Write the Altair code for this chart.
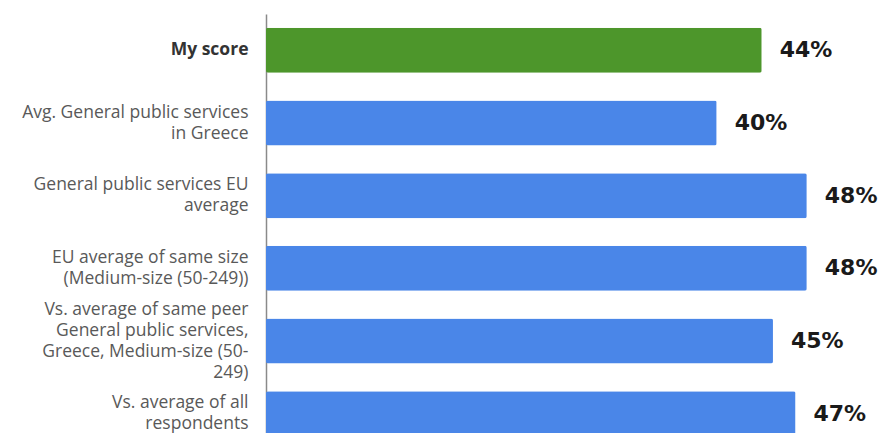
import altair as alt
import pandas as pd

categories = [
    "My score",
    "Avg. General public services\nin Greece",
    "General public services EU\naverage",
    "EU average of same size\n(Medium-size (50-249))",
    "Vs. average of same peer\nGeneral public services,\nGreece, Medium-size (50-\n249)",
    "Vs. average of all\nrespondents",
]
values = [44, 40, 48, 48, 45, 47]
kinds = ["mine", "other", "other", "other", "other", "other"]

df = pd.DataFrame({"category": categories, "value": values, "kind": kinds})
df["label"] = df["value"].astype(str) + "%"

y_scale = alt.Scale(range=[0, 436], paddingInner=0.38, paddingOuter=0.19)

y_enc = alt.Y(
    "category:N",
    sort=categories,
    scale=y_scale,
    axis=alt.Axis(
        title=None,
        ticks=False,
        domainColor="#8a8a8a",
        domainWidth=1.5,
        labelPadding=18,
        labelFont="Open Sans",
        labelFontSize=17.5,
        labelLineHeight=21,
        labelLimit=300,
        labelExpr="split(datum.label, '\\n')",
        labelOffset=alt.ExprRef("-(length(split(datum.label, '\\n')) - 1) * 10.5"),
        labelColor=alt.ExprRef("datum.label == 'My score' ? '#333333' : '#595959'"),
        labelFontWeight=alt.ExprRef("datum.label == 'My score' ? 'bold' : 'normal'"),
    ),
)
x_enc = alt.X("value:Q", scale=alt.Scale(domain=[0, 54.5]), axis=None)

bars = alt.Chart(df).mark_bar(cornerRadius=2).encode(
    y=y_enc,
    x=x_enc,
    color=alt.Color(
        "kind:N",
        scale=alt.Scale(domain=["mine", "other"], range=["#4d962b", "#4a86e8"]),
        legend=None,
    ),
)

text = alt.Chart(df).mark_text(
    align="left", baseline="middle", dx=18, font="DejaVu Sans",
    fontSize=22, fontWeight="bold", color="#1a1a1a",
).encode(y=alt.Y("category:N", sort=categories), x=x_enc, text="label:N")

chart = (
    alt.layer(bars, text)
    .properties(
        width=614,
        height=419,
        autosize=alt.AutoSizeParams(type="none"),
        padding={"left": 258, "top": 6, "right": 0, "bottom": 0},
    )
    .configure_view(stroke=None)
)

chart.save("out.html", embed_options={"renderer": "svg", "actions": False})
